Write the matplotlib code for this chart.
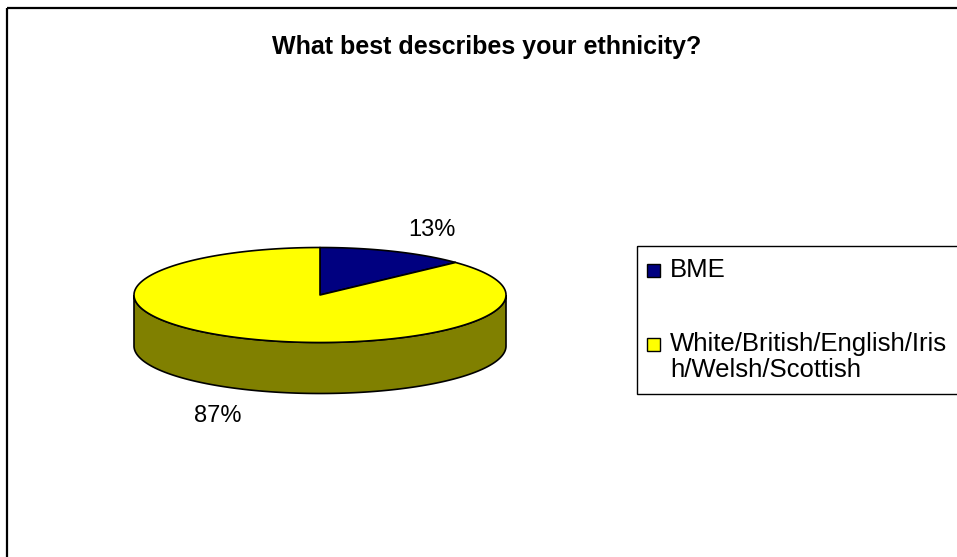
import numpy as np
import matplotlib
matplotlib.use('Agg')
import matplotlib.pyplot as plt
from matplotlib.patches import Polygon, Rectangle

plt.rcParams['font.family'] = ['Liberation Sans', 'DejaVu Sans']

# survey results
title = 'What best describes your ethnicity?'
categories = ['BME', 'White/British/English/Irish/Welsh/Scottish']
shares = [13, 87]
top_colors = ['#000080', '#FFFF00']
side_colors = ['#000040', '#808000']

W, H = 957, 557
fig = plt.figure(figsize=(W / 100, H / 100), dpi=100)
ax = fig.add_axes([0, 0, 1, 1])
ax.set_xlim(0, W)
ax.set_ylim(H, 0)
ax.axis('off')

# chart frame (runs off the right and bottom edges)
ax.add_patch(Rectangle((7, 8), 1000, 600, fill=False, ec='black', lw=1.6))

ax.text(487, 47, title, ha='center', va='center', fontsize=18,
        fontweight='bold')

# 3D pie geometry in pixels
cx, cy = 320, 295
a, b = 186, 47.5
depth = 51


def rim(phi):
    phi = np.radians(phi)
    return cx + a * np.cos(phi), cy - b * np.sin(phi)


fracs = np.array(shares) / np.sum(shares)
starts = 90 - 360 * np.concatenate([[0], np.cumsum(fracs)[:-1]])
ends = starts - 360 * fracs

# visible side walls: front half of the rim (180..360 deg)
for s, e, col in zip(starts, ends, side_colors):
    lo, hi = min(s, e), max(s, e)
    for shift in (-360, 0, 360):
        seg_lo = max(lo + shift, 180)
        seg_hi = min(hi + shift, 360)
        if seg_hi <= seg_lo:
            continue
        phis = np.linspace(seg_lo, seg_hi, 200)
        xs, ys = rim(phis)
        pts = np.column_stack([np.r_[xs, xs[::-1]],
                               np.r_[ys, ys[::-1] + depth]])
        ax.add_patch(Polygon(pts, closed=True, fc=col, ec='black', lw=1.2))

# top faces
for s, e, col in zip(starts, ends, top_colors):
    phis = np.linspace(s, e, 400)
    xs, ys = rim(phis)
    pts = np.column_stack([np.r_[cx, xs], np.r_[cy, ys]])
    ax.add_patch(Polygon(pts, closed=True, fc=col, ec='black', lw=1.2,
                         joinstyle='round'))

# percentage labels outside the rim
for s, e, v in zip(starts, ends, shares):
    mid = np.radians((s + e) / 2)
    lx = cx + 1.45 * a * np.cos(mid) + 5
    ly = cy - 1.45 * b * np.sin(mid) - 2
    if np.sin(mid) < 0:
        ly += depth + 9
    ax.text(lx, ly, f'{v}%', ha='center', va='center', fontsize=17)

# legend box
ax.add_patch(Rectangle((637, 246), 400, 148, fill=False, ec='black', lw=1))
legend_rows = [[categories[0]],
               [categories[1][:26], categories[1][26:]]]
row_y = [270, 344]
for lines, y0, col in zip(legend_rows, row_y, top_colors):
    ax.add_patch(Rectangle((647, y0 - 6), 13, 13, fc=col, ec='black', lw=1))
    for i, line in enumerate(lines):
        ax.text(670, y0 + 26 * i, line, ha='left', va='center', fontsize=18.5)

fig.savefig('out.png', dpi=100)
